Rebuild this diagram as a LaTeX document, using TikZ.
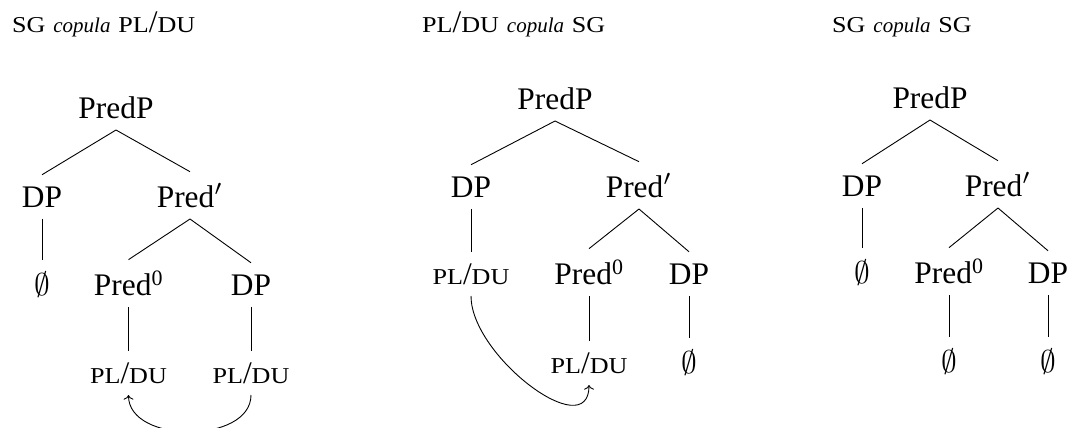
\documentclass[tikz,border=0pt]{standalone}
\usepackage{fontspec}
\usepackage{graphicx}
\usetikzlibrary{arrows.meta}
\setmainfont{Liberation Serif}
\newfontfamily\scfont[FakeStretch=1.15]{Liberation Serif}
% small capitals built from a reduced, slightly widened roman
\newcommand\smc[1]{{\scfont\fontsize{22.7pt}{26pt}\selectfont #1}}
\newcommand\pldu{\smc{PL}/\smc{DU}}
\newcommand\sg{\smc{SG}}
\newcommand\cop{{\fontsize{21pt}{25pt}\selectfont\itshape copula}}
% math symbols set at 10pt and enlarged to the label size
\newcommand\nul{\scalebox{3.14}{\fontsize{10pt}{12pt}\selectfont$\emptyset$}}
\newcommand\xbar{\scalebox{3.14}{\fontsize{10pt}{12pt}\selectfont$'$}}

\begin{document}
\begin{tikzpicture}[x=1pt, y=-1pt,
  lab/.style={anchor=base, inner sep=11.5pt, font=\fontsize{31.4pt}{36pt}\selectfont},
  heading/.style={anchor=base west, inner sep=0pt, font=\fontsize{31.4pt}{36pt}\selectfont},
  branch/.style={line width=0.9pt},
  mvarrow/.style={line width=0.9pt, -{To[scale=1.3]}}]
\useasboundingbox (0,0) rectangle (1070,428);

% headings
\node[heading] (h1) at (12,33)  {\sg\ \cop\ \pldu};
\node[heading] (h2) at (422,33) {\pldu\ \cop\ \sg};
\node[heading] (h3) at (832,33) {\sg\ \cop\ \sg};

% tree 1: SG copula PL/DU
\node[lab] (t1p) at (116,118)   {PredP};
\node[lab] (t1d) at (42,207)    {DP};
\node[lab] (t1b) at (190,207)   {Pred\xbar};
\node[lab] (t1e) at (42,295)    {\nul};
\node[lab] (t1h) at (128.5,295) {Pred\textsuperscript{0}};
\node[lab] (t1c) at (251,295)   {DP};
\node[lab] (t1x) at (128.5,383) {\pldu};
\node[lab] (t1y) at (251,383)   {\pldu};
\draw[branch] (t1p.south) -- (t1d.north);
\draw[branch] (t1p.south) -- (t1b.north);
\draw[branch] (t1d.south) -- (t1e.north);
\draw[branch] (t1b.south) -- (t1h.north);
\draw[branch] (t1b.south) -- (t1c.north);
\draw[branch] (t1h.south) -- (t1x.north);
\draw[branch] (t1c.south) -- (t1y.north);
\draw[mvarrow] (t1y.south) .. controls +(0,49) and +(0,49) .. (t1x.south);

% tree 2: PL/DU copula SG
\node[lab] (t2p) at (555,109) {PredP};
\node[lab] (t2d) at (471,197) {DP};
\node[lab] (t2b) at (639,197) {Pred\xbar};
\node[lab] (t2e) at (471,284) {\pldu};
\node[lab] (t2h) at (589,284) {Pred\textsuperscript{0}};
\node[lab] (t2c) at (689,284) {DP};
\node[lab] (t2x) at (589,373) {\pldu};
\node[lab] (t2y) at (689,373) {\nul};
\draw[branch] (t2p.south) -- (t2d.north);
\draw[branch] (t2p.south) -- (t2b.north);
\draw[branch] (t2d.south) -- (t2e.north);
\draw[branch] (t2b.south) -- (t2h.north);
\draw[branch] (t2b.south) -- (t2c.north);
\draw[branch] (t2h.south) -- (t2x.north);
\draw[branch] (t2c.south) -- (t2y.north);
\draw[mvarrow] (t2e.south) .. controls +(0,60) and +(0,60) .. (t2x.south);

% tree 3: SG copula SG
\node[lab] (t3p) at (930,108)  {PredP};
\node[lab] (t3d) at (862,196)  {DP};
\node[lab] (t3b) at (998,196)  {Pred\xbar};
\node[lab] (t3e) at (862,283)  {\nul};
\node[lab] (t3h) at (949,283)  {Pred\textsuperscript{0}};
\node[lab] (t3c) at (1048,283) {DP};
\node[lab] (t3x) at (949,372)  {\nul};
\node[lab] (t3y) at (1048,372) {\nul};
\draw[branch] (t3p.south) -- (t3d.north);
\draw[branch] (t3p.south) -- (t3b.north);
\draw[branch] (t3d.south) -- (t3e.north);
\draw[branch] (t3b.south) -- (t3h.north);
\draw[branch] (t3b.south) -- (t3c.north);
\draw[branch] (t3h.south) -- (t3x.north);
\draw[branch] (t3c.south) -- (t3y.north);
\end{tikzpicture}
\end{document}
